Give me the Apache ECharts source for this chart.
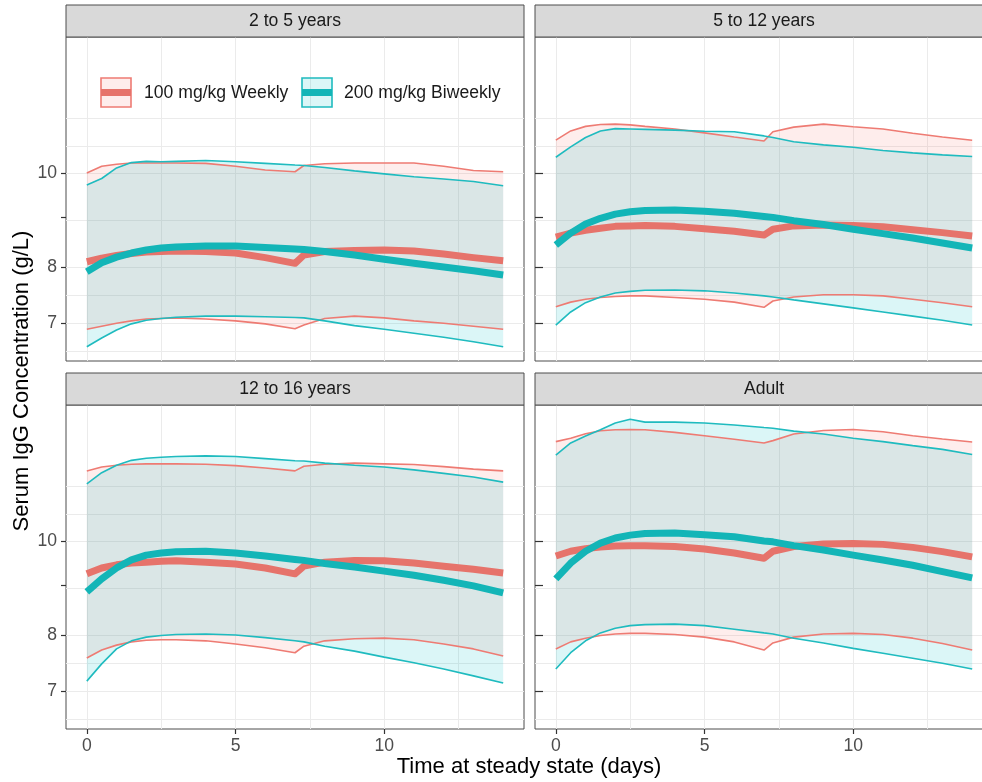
<!DOCTYPE html>
<html><head><meta charset="utf-8">
<script src="https://cdn.jsdelivr.net/npm/echarts@6/dist/echarts.min.js"></script>
<style>html,body{margin:0;padding:0;background:#fff}#c{width:982px;height:782px}</style>
</head><body><div id="c"></div>
<script>
// ---- data ----
const days = [0, 0.5, 1, 1.5, 2, 2.5, 3, 4, 5, 6, 7, 7.3, 8, 9, 10, 11, 12, 13, 14];
const panelTitles = ['2 to 5 years', '5 to 12 years', '12 to 16 years', 'Adult'];
const groupNames = ['100 mg/kg Weekly', '200 mg/kg Biweekly'];
const yTickValues = [7, 8, 9, 10];
const yLabelValues = [7, 8, 10];
const yGridValues = [6.55, 7, 7.48, 8, 8.94, 10, 10.66, 11.4];
const xLabelValues = [0, 5, 10];
const xGridValues = [0, 2.5, 5, 7.5, 10, 12.5];

// 2 to 5 years
const p1WeeklyMed = [8.10, 8.17, 8.22, 8.26, 8.29, 8.30, 8.31, 8.30, 8.27, 8.18, 8.07, 8.23, 8.30, 8.32, 8.33, 8.31, 8.25, 8.18, 8.12];
const p1WeeklyHi  = [10.00, 10.16, 10.21, 10.24, 10.24, 10.24, 10.24, 10.23, 10.16, 10.07, 10.03, 10.18, 10.22, 10.24, 10.24, 10.24, 10.16, 10.06, 10.03];
const p1WeeklyLo  = [6.90, 6.95, 7.00, 7.04, 7.07, 7.08, 7.09, 7.07, 7.04, 6.99, 6.91, 6.97, 7.08, 7.12, 7.09, 7.04, 7.00, 6.95, 6.90];
const p1BiMed = [7.91, 8.08, 8.19, 8.27, 8.33, 8.37, 8.39, 8.41, 8.41, 8.38, 8.35, 8.34, 8.30, 8.23, 8.15, 8.07, 8.00, 7.93, 7.85];
const p1BiHi  = [9.72, 9.87, 10.12, 10.25, 10.28, 10.27, 10.28, 10.30, 10.27, 10.23, 10.19, 10.18, 10.13, 10.05, 9.98, 9.91, 9.86, 9.80, 9.70];
const p1BiLo  = [6.62, 6.76, 6.89, 6.99, 7.05, 7.08, 7.10, 7.12, 7.12, 7.11, 7.095, 7.09, 7.04, 6.96, 6.90, 6.835, 6.77, 6.70, 6.62];

// 5 to 12 years
const p2WeeklyMed = [8.59, 8.67, 8.73, 8.77, 8.81, 8.82, 8.83, 8.81, 8.76, 8.71, 8.63, 8.75, 8.82, 8.84, 8.83, 8.80, 8.74, 8.68, 8.61];
const p2WeeklyHi  = [10.81, 11.05, 11.17, 11.22, 11.23, 11.21, 11.17, 11.10, 11.00, 10.89, 10.79, 11.03, 11.15, 11.23, 11.16, 11.10, 10.99, 10.89, 10.81];
const p2WeeklyLo  = [7.28, 7.36, 7.41, 7.44, 7.46, 7.47, 7.47, 7.44, 7.41, 7.36, 7.27, 7.38, 7.45, 7.49, 7.49, 7.47, 7.41, 7.35, 7.28];
const p2BiMed = [8.43, 8.67, 8.86, 8.98, 9.07, 9.12, 9.15, 9.16, 9.13, 9.09, 9.02, 9.00, 8.93, 8.85, 8.75, 8.66, 8.57, 8.47, 8.37];
const p2BiHi  = [10.38, 10.64, 10.88, 11.05, 11.11, 11.10, 11.09, 11.07, 11.04, 11.03, 10.92, 10.88, 10.77, 10.69, 10.63, 10.55, 10.49, 10.44, 10.40];
const p2BiLo  = [6.97, 7.19, 7.35, 7.45, 7.52, 7.55, 7.57, 7.575, 7.56, 7.52, 7.47, 7.45, 7.40, 7.33, 7.26, 7.19, 7.12, 7.05, 6.97];

// 12 to 16 years
const p3WeeklyMed = [9.25, 9.38, 9.45, 9.49, 9.51, 9.53, 9.54, 9.51, 9.47, 9.38, 9.25, 9.42, 9.51, 9.55, 9.54, 9.49, 9.42, 9.35, 9.27];
const p3WeeklyHi  = [11.81, 11.92, 11.97, 12.00, 12.01, 12.01, 12.01, 12.00, 11.96, 11.89, 11.81, 11.94, 12.00, 12.03, 12.01, 11.99, 11.93, 11.86, 11.81];
const p3WeeklyLo  = [7.575, 7.72, 7.81, 7.87, 7.90, 7.91, 7.91, 7.89, 7.83, 7.76, 7.67, 7.79, 7.89, 7.93, 7.94, 7.91, 7.83, 7.74, 7.61];
const p3BiMed = [8.86, 9.14, 9.38, 9.56, 9.67, 9.72, 9.75, 9.76, 9.72, 9.65, 9.57, 9.55, 9.48, 9.40, 9.31, 9.22, 9.11, 8.99, 8.84];
const p3BiHi  = [11.45, 11.76, 11.97, 12.11, 12.17, 12.20, 12.22, 12.24, 12.22, 12.16, 12.10, 12.09, 12.03, 11.97, 11.92, 11.84, 11.74, 11.64, 11.50];
const p3BiLo  = [7.17, 7.47, 7.74, 7.89, 7.96, 7.99, 8.01, 8.02, 8.00, 7.95, 7.89, 7.87, 7.79, 7.70, 7.59, 7.49, 7.38, 7.26, 7.14];

// Adult
const p4WeeklyMed = [9.65, 9.76, 9.82, 9.86, 9.88, 9.89, 9.89, 9.87, 9.81, 9.72, 9.60, 9.76, 9.87, 9.93, 9.94, 9.92, 9.85, 9.75, 9.63];
const p4WeeklyHi  = [12.66, 12.76, 12.90, 12.99, 13.02, 13.03, 13.02, 12.94, 12.84, 12.73, 12.62, 12.69, 12.89, 13.00, 13.03, 12.96, 12.84, 12.74, 12.65];
const p4WeeklyLo  = [7.74, 7.87, 7.94, 7.99, 8.02, 8.03, 8.03, 8.01, 7.96, 7.87, 7.72, 7.85, 7.96, 8.02, 8.03, 8.01, 7.94, 7.84, 7.72];
const p4BiMed = [9.14, 9.49, 9.76, 9.95, 10.07, 10.14, 10.18, 10.19, 10.15, 10.10, 10.00, 9.98, 9.89, 9.79, 9.67, 9.56, 9.44, 9.30, 9.16];
const p4BiHi  = [12.26, 12.62, 12.83, 13.02, 13.23, 13.35, 13.26, 13.26, 13.23, 13.17, 13.09, 13.07, 12.98, 12.89, 12.76, 12.66, 12.54, 12.43, 12.28];
const p4BiLo  = [7.38, 7.67, 7.89, 8.04, 8.13, 8.18, 8.20, 8.21, 8.18, 8.11, 8.04, 8.02, 7.94, 7.85, 7.75, 7.66, 7.57, 7.48, 7.38];

// ---- build ----
const panelData = [
  [[p1WeeklyLo, p1WeeklyMed, p1WeeklyHi], [p1BiLo, p1BiMed, p1BiHi]],
  [[p2WeeklyLo, p2WeeklyMed, p2WeeklyHi], [p2BiLo, p2BiMed, p2BiHi]],
  [[p3WeeklyLo, p3WeeklyMed, p3WeeklyHi], [p3BiLo, p3BiMed, p3BiHi]],
  [[p4WeeklyLo, p4WeeklyMed, p4WeeklyHi], [p4BiLo, p4BiMed, p4BiHi]]
];
const FONT = '"Liberation Sans", Arial, Helvetica, sans-serif';
const lineColors = ['#E6736B', '#13B5B7'];
const thinColors = ['#EE7B73', '#1FBBBF'];
const fillColors = ['rgba(248,118,109,0.13)', 'rgba(0,191,196,0.14)'];
const YMIN = 6.40, YMAX = 13.81, XMIN = -0.7, XMAX = 14.7;
const gridPos = [
  {left: 66, top: 37, width: 458, height: 324},
  {left: 535, top: 37, width: 458, height: 324},
  {left: 66, top: 405, width: 458, height: 324},
  {left: 535, top: 405, width: 458, height: 324}
];

const grid = [], xAxis = [], yAxis = [], series = [];
gridPos.forEach((g, i) => {
  grid.push(Object.assign({show: true, backgroundColor: '#fff', borderColor: '#4d4d4d', borderWidth: 1,
    containLabel: false, outerBoundsMode: 'none'}, g));
  const bottom = i >= 2, left = i % 2 === 0;
  xAxis.push({
    type: 'value', gridIndex: i, min: XMIN, max: XMAX, position: 'bottom',
    axisLine: {show: false, onZero: false}, splitLine: {show: false},
    axisTick: {show: bottom, customValues: xLabelValues, length: 5, lineStyle: {color: '#333', width: 1.2}},
    axisLabel: {show: bottom, customValues: xLabelValues, color: '#4d4d4d', fontSize: 17.6, fontFamily: FONT, margin: 8}
  });
  xAxis.push({
    type: 'value', gridIndex: i, min: XMIN, max: XMAX, position: 'bottom',
    axisLine: {show: false, onZero: false}, axisLabel: {show: false},
    axisTick: {show: false, customValues: xGridValues},
    splitLine: {show: true, lineStyle: {color: '#ebebeb', width: 1}}
  });
  yAxis.push({
    type: 'log', logBase: 10, gridIndex: i, min: YMIN, max: YMAX, position: 'left',
    axisLine: {show: false, onZero: false}, splitLine: {show: false},
    axisTick: {show: true, customValues: yTickValues, inside: !left, length: left ? 5 : 8, lineStyle: {color: '#333', width: 1.2}},
    axisLabel: {show: left, customValues: yLabelValues, color: '#4d4d4d', fontSize: 17.6, fontFamily: FONT, margin: 9}
  });
  yAxis.push({
    type: 'log', logBase: 10, gridIndex: i, min: YMIN, max: YMAX, position: 'left',
    axisLine: {show: false, onZero: false}, axisLabel: {show: false},
    axisTick: {show: false, customValues: yGridValues},
    splitLine: {show: true, lineStyle: {color: '#ebebeb', width: 1}}
  });

  const groups = panelData[i];
  groups.forEach((grp, gi) => {
    const lo = grp[0], hi = grp[2];
    const pts = days.map((t, k) => [t, lo[k], hi[k]]);
    series.push({
      type: 'custom', xAxisIndex: 2 * i, yAxisIndex: 2 * i, silent: true,
      encode: {x: 0, y: [1, 2]}, data: pts,
      renderItem: function (params, api) {
        if (params.dataIndex !== 0) return null;
        const up = pts.map(p => api.coord([p[0], p[2]]));
        const dn = pts.map(p => api.coord([p[0], p[1]])).reverse();
        return {type: 'polygon', shape: {points: up.concat(dn)}, style: {fill: fillColors[gi], stroke: null}};
      }
    });
    [lo, hi].forEach(arr => {
      series.push({
        type: 'line', xAxisIndex: 2 * i, yAxisIndex: 2 * i, silent: true,
        symbol: 'none', data: days.map((t, k) => [t, arr[k]]),
        lineStyle: {color: thinColors[gi], width: 1.6}
      });
    });
  });
  groups.forEach((grp, gi) => {
    const med = grp[1];
    series.push({
      type: 'line', xAxisIndex: 2 * i, yAxisIndex: 2 * i, silent: true,
      symbol: 'none', data: days.map((t, k) => [t, med[k]]),
      lineStyle: {color: lineColors[gi], width: 7, cap: 'butt', join: 'round'}
    });
  });
});

const graphic = [];
gridPos.forEach((g, i) => {
  const top = i < 2 ? 5 : 373;
  graphic.push({type: 'rect', shape: {x: g.left, y: top, width: g.width, height: 32},
    style: {fill: '#d9d9d9', stroke: '#4d4d4d', lineWidth: 1}, z: 10});
  graphic.push({type: 'text', x: g.left + 229, y: top + 16, z: 11,
    style: {text: panelTitles[i], fill: '#1a1a1a', font: '17.6px ' + FONT, textAlign: 'center', textVerticalAlign: 'middle', align: 'center', verticalAlign: 'middle'}});
});
const legendItems = [{x: 101, tx: 144}, {x: 302, tx: 344}];
legendItems.forEach((it, gi) => {
  graphic.push({type: 'rect', shape: {x: it.x, y: 78, width: 30, height: 29},
    style: {fill: fillColors[gi], stroke: thinColors[gi], lineWidth: 1.6}, z: 10});
  graphic.push({type: 'line', shape: {x1: it.x, y1: 92.5, x2: it.x + 30, y2: 92.5},
    style: {stroke: lineColors[gi], lineWidth: 7}, z: 11});
  graphic.push({type: 'text', x: it.tx, y: 93, z: 11,
    style: {text: groupNames[gi], fill: '#1a1a1a', font: '17.6px ' + FONT, textAlign: 'left', textVerticalAlign: 'middle', align: 'left', verticalAlign: 'middle'}});
});
graphic.push({type: 'text', x: 22, y: 381, rotation: Math.PI / 2, z: 11,
  style: {text: 'Serum IgG Concentration (g/L)', fill: '#000', font: '22px ' + FONT, textAlign: 'center', textVerticalAlign: 'middle', align: 'center', verticalAlign: 'middle'}});
graphic.push({type: 'text', x: 529, y: 767, z: 11,
  style: {text: 'Time at steady state (days)', fill: '#000', font: '22px ' + FONT, textAlign: 'center', textVerticalAlign: 'middle', align: 'center', verticalAlign: 'middle'}});

const chart = echarts.init(document.getElementById('c'));
chart.setOption({
  animation: false,
  backgroundColor: '#fff',
  grid, xAxis, yAxis, series, graphic
});
</script>
</body></html>
